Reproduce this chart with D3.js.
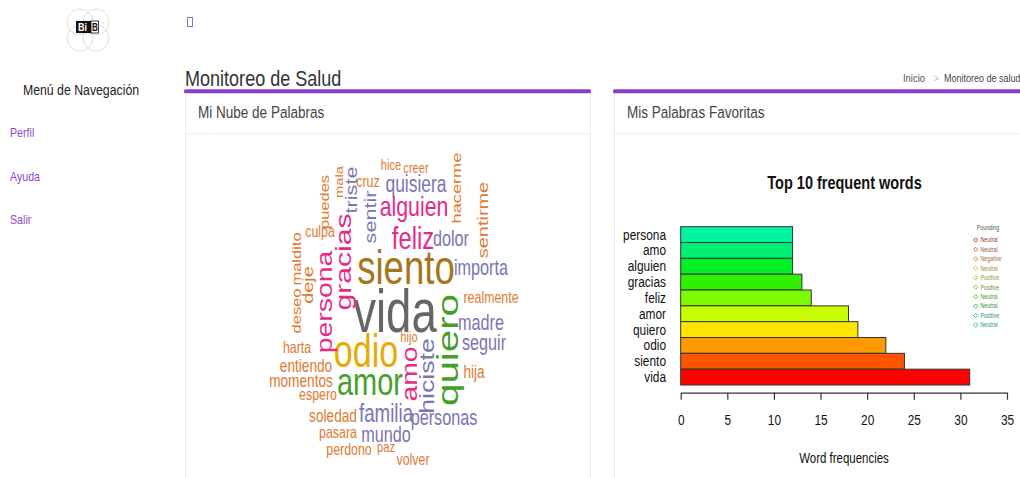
<!DOCTYPE html>
<html><head><meta charset="utf-8">
<script src="https://cdn.jsdelivr.net/npm/d3@7"></script>
<style>html,body{margin:0;padding:0;background:#fff;overflow:hidden}svg{display:block;font-family:"Liberation Sans",Arial,Helvetica,sans-serif}</style>
</head><body><svg id="c" width="1020" height="478"></svg>
<script>
// ---------- data ----------
const navItems = ["Perfil", "Ayuda", "Salir"];
const barWords = ["persona", "amo", "alguien", "gracias", "feliz", "amor", "quiero", "odio", "siento", "vida"];
const barValues = [12, 12, 12, 13, 14, 18, 19, 22, 24, 31];
const barColors = ["#00F5A0", "#00EE76", "#00F028", "#2EF000", "#7CFC00", "#C8FF00", "#FFE500", "#FF9900", "#FF5500", "#FF0000"];
const xTicks = [0, 5, 10, 15, 20, 25, 30, 35];
const legendTitle = "Pounding";
const legendLabels = ["Neutral", "Neutral", "Negative", "Neutral", "Positive", "Positive", "Neutral", "Neutral", "Positive", "Neutral"];

const cloudWords = ["hice","creer","cruz","quisiera","alguien","culpa","feliz","dolor","siento","vida",
  "importa","realmente","madre","seguir","hija","hijo","odio","harta","entiendo","momentos",
  "amor","espero","soledad","familia","personas","pasara","mundo","perdono","paz","volver",
  "hacerme","puedes","mala","triste","sentir","sentirme","gracias","maldito","deseo","deje",
  "persona","quiero","amo","hiciste"];
const cloudFreq = [4,4,5,9,12,5,14,8,24,31,
  8,5,8,8,6,4,22,5,6,6,
  18,5,6,10,8,5,8,5,4,5,
  6,5,4,8,8,7,13,5,5,7,
  12,19,12,11];
const cloudVertical = [0,0,0,0,0,0,0,0,0,0,
  0,0,0,0,0,0,0,0,0,0,
  0,0,0,0,0,0,0,0,0,0,
  1,1,1,1,1,1,1,1,1,1,
  1,1,1,1];
const cloudX = [206,231,183,231,229,135,228,266,221,210,
  296,306,296,299,289,224,181,112,121,116,
  185,133,148,201,259,153,201,164,201,228,
  272,140,154,167,186,298,159,112,112,123,
  140,263,225,243];
const cloudY = [36,39,53,58,82,103,115,112,150,198,
  141,169,196,216,244,208,233,219,238,253,
  261,266,288,288,291,304,308,321,318,331,
  54,68,48,56,83,86,128,125,177,151,
  168,216,240,242];
const cloudPalette = ["#1B9E77","#E07A30","#7A75B5","#E7298A","#45A02A","#E6AB02","#A6761D","#666666"];

// ---------- helpers ----------
const svg = d3.select("#c");
function txt(g, x, y, s, o) {
  o = o || {};
  const sx = o.sx == null ? 0.82 : o.sx;
  return g.append("text")
    .attr("transform", `translate(${x},${y}) scale(${sx},1)` + (o.rot ? ` rotate(${o.rot})` : ""))
    .attr("text-anchor", o.anchor || "start")
    .attr("font-size", o.size || 12)
    .attr("font-weight", o.weight || "normal")
    .attr("fill", o.fill || "#333")
    .attr("dy", o.dy || null)
    .text(s);
}

// ---------- sidebar ----------
const side = svg.append("g");
const logo = side.append("g");
[[80,22],[96,22],[80,38],[96,38]].forEach(c => {
  logo.append("circle").attr("cx", c[0]).attr("cy", c[1]).attr("r", 13)
    .attr("fill", "none").attr("stroke", "#d4d4d4").attr("stroke-width", 0.8);
});
logo.append("rect").attr("x", 76).attr("y", 21).attr("width", 15).attr("height", 12).attr("fill", "#111");
logo.append("rect").attr("x", 91).attr("y", 21).attr("width", 7.5).attr("height", 12).attr("fill", "#fff").attr("stroke", "#111").attr("stroke-width", 0.8);
txt(logo, 78, 31, "Bi", {size: 11, weight: "bold", fill: "#fff"});
txt(logo, 92, 31, "B", {size: 10, weight: "bold", fill: "#111"});

txt(side, 81, 94.5, "Menú de Navegación", {size: 15, anchor: "middle", fill: "#222"});
const navY = d3.scalePoint().domain(navItems).range([137, 224]);
navItems.forEach(n => txt(side, 10, navY(n), n, {size: 13, fill: "#9147C7"}));

// missing-glyph icon
svg.append("rect").attr("x", 187.5).attr("y", 17.5).attr("width", 5).attr("height", 9)
  .attr("fill", "none").attr("stroke", "#9a6ccc").attr("stroke-width", 1);

// ---------- header ----------
txt(svg, 185, 86, "Monitoreo de Salud", {size: 22, fill: "#333"});
const bc = svg.append("g");
txt(bc, 903, 82, "Inicio", {size: 11.5, fill: "#555"});
txt(bc, 934, 82, ">", {size: 10, fill: "#bbb"});
txt(bc, 944, 82, "Monitoreo de salud", {size: 11, fill: "#444"});

// ---------- panels ----------
function panel(x, w, title) {
  const g = svg.append("g");
  g.append("rect").attr("x", x + 0.5).attr("y", 92).attr("width", w).attr("height", 400)
    .attr("fill", "#fff").attr("stroke", "#ececec");
  g.append("line").attr("x1", x + 0.5).attr("x2", x + w).attr("y1", 133.5).attr("y2", 133.5)
    .attr("stroke", "#eeeeee");
  g.append("rect").attr("x", x - 1).attr("y", 89.3).attr("width", w + 2).attr("height", 4)
    .attr("rx", 1.5).attr("fill", "#8A3FCB");
  txt(g, x + 13, 118, title, {size: 16.5, fill: "#444"});
  return g;
}
panel(185, 405, "Mi Nube de Palabras");
panel(614, 420, "Mis Palabras Favoritas");

// ---------- word cloud ----------
const cloud = svg.append("g");
const cxS = d3.scaleLinear().domain([0, 405]).range([185, 590]);
const cyS = d3.scaleLinear().domain([0, 344]).range([134, 478]);
const sizeS = d3.scaleLinear().domain([0, 31]).range([8, 60.7]);
const colS = d3.scaleThreshold().domain([3.875, 7.75, 11.625, 15.5, 19.375, 23.25, 27.125]).range(cloudPalette);
cloudWords.forEach((w, i) => {
  const f = cloudFreq[i];
  txt(cloud, cxS(cloudX[i]), cyS(cloudY[i]), w, {
    size: sizeS(f), fill: colS(f), anchor: "middle", sx: 0.75,
    rot: cloudVertical[i] ? -90 : 0, dy: cloudVertical[i] ? "0.32em" : null
  });
});

// ---------- bar chart ----------
const bar = svg.append("g");
const x = d3.scaleLinear().domain([0, 35]).range([680.7, 1007]);
const y = d3.scaleBand().domain(barWords).range([226.7, 385]).padding(0);
txt(bar, 844.5, 189.3, "Top 10 frequent words", {size: 17.7, weight: "bold", anchor: "middle", fill: "#111"});
bar.selectAll("rect.b").data(barWords).join("rect").attr("class", "b")
  .attr("x", x(0)).attr("y", d => y(d))
  .attr("width", (d, i) => x(barValues[i]) - x(0)).attr("height", y.bandwidth())
  .attr("fill", (d, i) => barColors[i]).attr("stroke", "#333").attr("stroke-width", 1);
barWords.forEach(w => txt(bar, 666, y(w) + y.bandwidth() / 2 + 5, w, {size: 14.5, anchor: "end", fill: "#111"}));

const ax = bar.append("g").attr("transform", "translate(0,392.7)")
  .call(d3.axisBottom(x).tickValues(xTicks).tickSize(7).tickSizeOuter(0).tickPadding(15).tickFormat(d3.format("d")));
ax.select(".domain").attr("stroke", "#333").attr("stroke-width", 1.2);
ax.selectAll(".tick line").attr("stroke", "#333").attr("stroke-width", 1.2);
ax.selectAll(".tick text").attr("font-size", 14.5).attr("fill", "#111")
  .attr("font-family", '"Liberation Sans",Arial,sans-serif').attr("transform", "scale(0.82,1)");
txt(bar, 844, 463, "Word frequencies", {size: 14, anchor: "middle", fill: "#111"});

// legend
const lg = bar.append("g");
txt(lg, 988, 230, legendTitle, {size: 6.5, anchor: "middle", fill: "#555"});
const ly = d3.scalePoint().domain(d3.range(legendLabels.length)).range([240, 325]);
const legendColors = barColors.slice().reverse();
legendLabels.forEach((l, i) => {
  const c = legendColors[i];
  lg.append("path").attr("d", d3.symbol(d3.symbolSquare, 9)())
    .attr("transform", `translate(975.7,${ly(i)}) rotate(45)`)
    .attr("fill", "none").attr("stroke", d3.interpolateRgb(c, "#777")(0.35)).attr("stroke-width", 0.9);
  txt(lg, 980.5, ly(i) + 2.3, l, {size: 6.5, fill: d3.interpolateRgb(c, "#555")(0.6)});
});
</script></body></html>
